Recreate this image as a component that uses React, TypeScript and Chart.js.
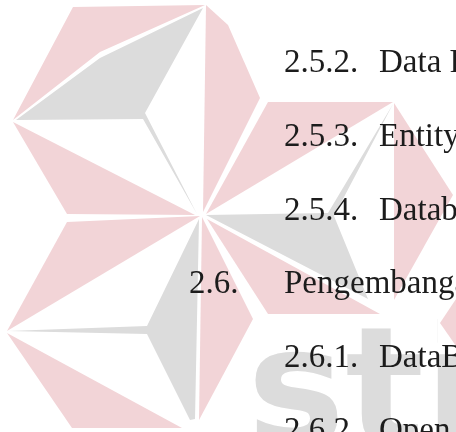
import React, { useEffect, useRef } from "react";
import { Chart, registerables } from "chart.js";

Chart.register(...registerables);

// Watermark logo pieces (x, y in page pixels, y downward)
const pinkTopA = [[73, 7], [205, 5], [100, 52], [13, 120]];
const grayA = [[16, 120], [100, 58], [203, 8], [145, 113], [197, 214], [143, 119]];
const pinkLowA = [[13, 122], [67, 214], [195, 215]];
const pinkRightA = [[206, 5], [228, 25], [260, 98], [203, 212]];

const pinkTopB = [[67, 222], [200, 216], [7, 331]];
const grayB = [[199, 219], [147, 326], [8, 331], [147, 334], [190, 420], [195, 419]];
const pinkLowB = [[7, 333], [72, 428], [182, 428]];
const pinkRightB = [[202, 217], [253, 319], [199, 420]];

const pinkTopC = [[268, 102], [393, 102], [206, 214]];
const grayC = [[206, 215], [328, 213], [393, 104], [334, 216], [368, 299]];
const pinkLowC = [[207, 219], [268, 314], [380, 314]];
const pinkRightC = [[394, 103], [453, 195], [394, 300]];

const pinkDot = [[456, 299], [440, 323], [456, 346]];

// Document text
const outlineNumbers = ["2.5.2.", "2.5.3.", "2.5.4.", "2.6.", "2.6.1.", "2.6.2."];
const outlineTitles = ["Data F", "Entity", "Datab", "Pengembanga", "DataB", "Open"];
const outlineLevels = [2, 2, 2, 1, 2, 2];
const watermarkWord = "sti";

const PINK = "#f2d4d7";
const GRAY = "#dcdcdc";

export default function App() {
  const ref = useRef<HTMLCanvasElement | null>(null);

  useEffect(() => {
    if (!ref.current) return;
    const shapes: [number[][], string][] = [
      [pinkTopA, PINK], [grayA, GRAY], [pinkLowA, PINK], [pinkRightA, PINK],
      [pinkTopB, PINK], [grayB, GRAY], [pinkLowB, PINK], [pinkRightB, PINK],
      [pinkTopC, PINK], [grayC, GRAY], [pinkLowC, PINK], [pinkRightC, PINK],
      [pinkDot, PINK],
    ];
    const chart = new Chart(ref.current, {
      type: "scatter",
      data: {
        datasets: shapes.map(([pts, color]) => ({
          data: [...pts, pts[0]].map(([x, y]) => ({ x, y })),
          showLine: true,
          fill: "shape",
          backgroundColor: color,
          borderColor: color,
          borderWidth: 0,
          pointRadius: 0,
          pointHoverRadius: 0,
          tension: 0,
        })),
      },
      options: {
        animation: false,
        responsive: false,
        layout: { padding: 0 },
        plugins: { legend: { display: false }, tooltip: { enabled: false } },
        events: [],
        scales: {
          x: { type: "linear", min: 0, max: 456, display: false },
          y: { type: "linear", min: 0, max: 432, reverse: true, display: false },
        },
      } as any,
    });
    return () => chart.destroy();
  }, []);

  const fs = 33;
  return (
    <div style={{ position: "fixed", left: 0, top: 0, width: 456, height: 432, overflow: "hidden", background: "#fff" }}>
      <div
        style={{
          position: "absolute", left: 0, top: 0, width: 456, height: 432, zIndex: 0,
          clipPath: "polygon(0 0, 438px 0, 438px 349px, 456px 349px, 456px 432px, 0 432px)",
        }}
      >
        <div
          style={{
            position: "absolute", left: 247, top: 446 - 140, fontFamily: "'DejaVu Sans'", fontWeight: "bold",
            fontSize: 165, lineHeight: "165px", color: GRAY, whiteSpace: "nowrap",
          }}
        >
          {watermarkWord}
        </div>
      </div>
      <canvas ref={ref} width={456} height={432} style={{ position: "absolute", left: 0, top: 0, zIndex: 1 }} />
      {outlineNumbers.map((num, i) => {
        const baseline = 73 + i * 73.6;
        const top = baseline - 0.8375 * fs;
        const nx = outlineLevels[i] === 1 ? 189 : 284;
        const tx = outlineLevels[i] === 1 ? 284 : 379;
        const common: React.CSSProperties = {
          position: "absolute", top, fontFamily: "'Liberation Serif'", fontSize: fs,
          lineHeight: fs + "px", color: "#1c1c1c", whiteSpace: "nowrap", zIndex: 2,
        };
        return (
          <React.Fragment key={i}>
            <div style={{ ...common, left: nx }}>{num}</div>
            <div style={{ ...common, left: tx }}>{outlineTitles[i]}</div>
          </React.Fragment>
        );
      })}
    </div>
  );
}
